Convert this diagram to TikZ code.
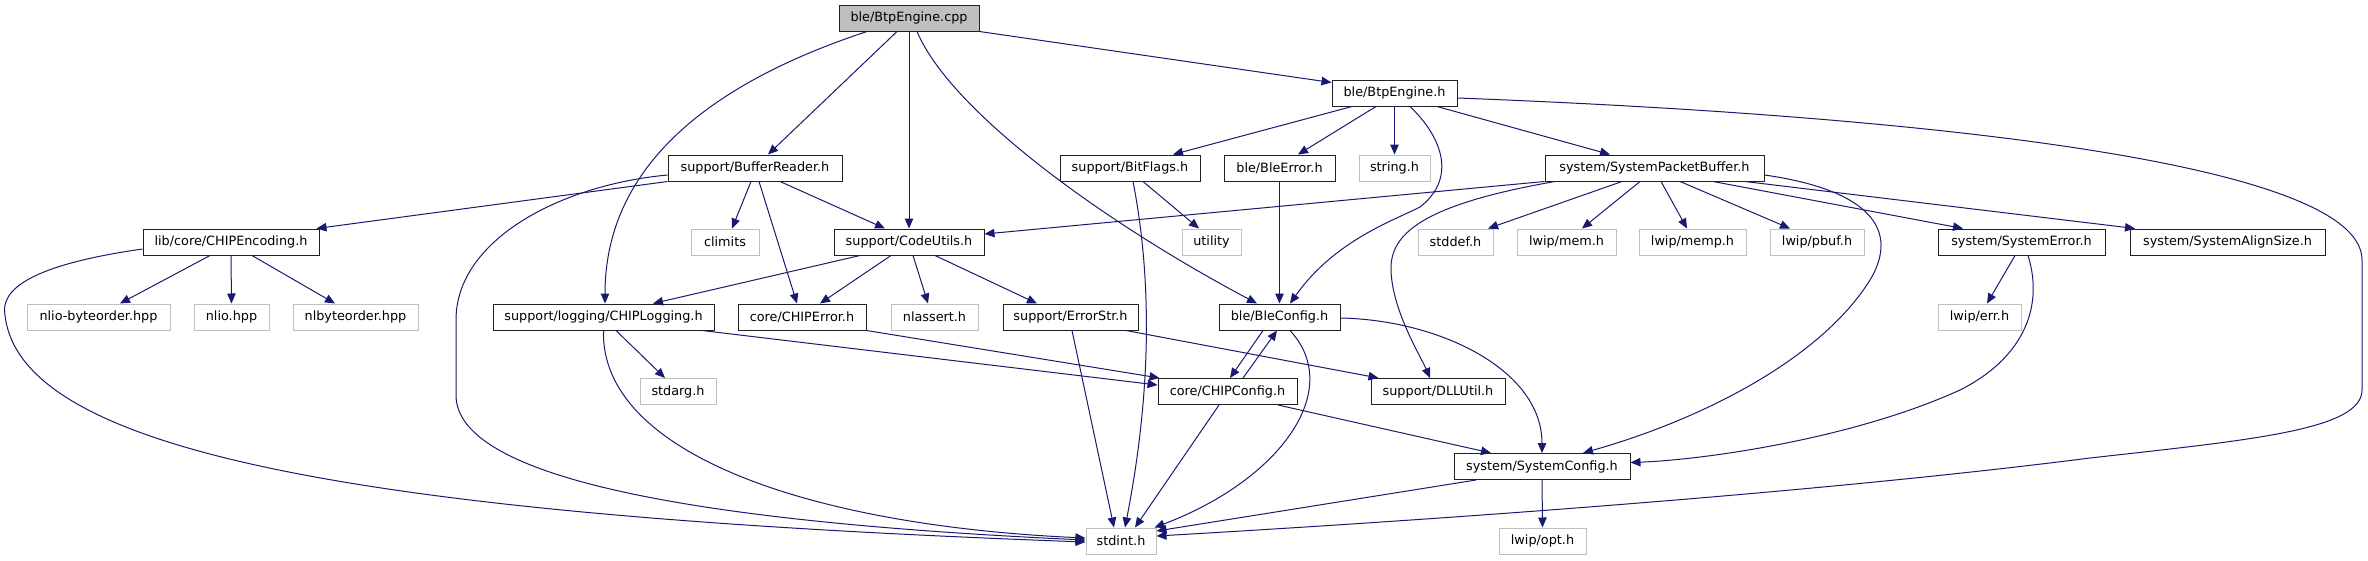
\documentclass[tikz,border=0pt]{standalone}
\usepackage{fontspec}
\newfontfamily\dv{DejaVu Sans}
\usetikzlibrary{calc,arrows.meta}
\definecolor{edgeblue}{HTML}{191970}
\definecolor{extgray}{HTML}{BFBFBF}
\definecolor{rootgray}{HTML}{BFBFBF}
\definecolor{docborder}{HTML}{202020}
\begin{document}
\begin{tikzpicture}[x=1pt,y=-1pt,
  box/.style={minimum height=26pt, inner sep=0pt, fill=white, line width=1pt,
              font={\dv\fontsize{12.8}{14}\selectfont}, text=black},
  doc/.style={box, draw=docborder},
  ext/.style={box, draw=extgray},
  dep/.style={draw=edgeblue, line width=1pt, -{Triangle[length=10pt,width=8.5pt]}}]
\useasboundingbox (0,0) rectangle (2368,560);
% row 0
\node[doc, fill=rootgray, minimum width=140pt] (cpp) at (909,18) {ble/BtpEngine.cpp};
% row 1
\node[doc, minimum width=125pt] (btph) at (1394.5,93) {ble/BtpEngine.h};
% row 2
\node[doc, minimum width=174pt] (bufrd) at (755,168) {support/BufferReader.h};
\node[doc, minimum width=140pt] (bitfl) at (1130,168) {support/BitFlags.h};
\node[doc, minimum width=111pt] (bleerr) at (1279.5,168) {ble/BleError.h};
\node[ext, minimum width=71pt] (strh) at (1394.5,168) {string.h};
\node[doc, minimum width=219pt] (spb) at (1654.5,168) {system/SystemPacketBuffer.h};
% row 3
\node[doc, minimum width=176pt] (chipenc) at (231,242) {lib/core/CHIPEncoding.h};
\node[ext, minimum width=68pt] (climits) at (725,242) {climits};
\node[doc, minimum width=150pt] (codeut) at (909,242) {support/CodeUtils.h};
\node[ext, minimum width=59pt] (utility) at (1211.5,242) {utility};
\node[ext, minimum width=75pt] (stddef) at (1455.5,242) {stddef.h};
\node[ext, minimum width=99pt] (lwipmem) at (1566.5,242) {lwip/mem.h};
\node[ext, minimum width=107pt] (lwipmemp) at (1692.5,242) {lwip/memp.h};
\node[ext, minimum width=94pt] (lwippbuf) at (1817,242) {lwip/pbuf.h};
\node[doc, minimum width=167pt] (syserr) at (2021.5,242) {system/SystemError.h};
\node[doc, minimum width=195pt] (sysalign) at (2227.5,242) {system/SystemAlignSize.h};
% row 4
\node[ext, minimum width=143pt] (nliobo) at (98.5,317) {nlio-byteorder.hpp};
\node[ext, minimum width=75pt] (nliohpp) at (231.5,317) {nlio.hpp};
\node[ext, minimum width=125pt] (nlbo) at (355.5,317) {nlbyteorder.hpp};
\node[doc, minimum width=221pt] (chiplog) at (603.5,317) {support/logging/CHIPLogging.h};
\node[doc, minimum width=128pt] (chiperr) at (802,317) {core/CHIPError.h};
\node[ext, minimum width=87pt] (nlassert) at (934.5,317) {nlassert.h};
\node[doc, minimum width=135pt] (errstr) at (1070.5,317) {support/ErrorStr.h};
\node[doc, minimum width=121pt] (bleconf) at (1279.5,317) {ble/BleConfig.h};
\node[ext, minimum width=83pt] (lwiperr) at (1979.5,317) {lwip/err.h};
% row 5
\node[ext, minimum width=76pt] (stdarg) at (678,391.5) {stdarg.h};
\node[doc, minimum width=139pt] (chipconf) at (1227.5,391.5) {core/CHIPConfig.h};
\node[doc, minimum width=134pt] (dllutil) at (1438,391.5) {support/DLLUtil.h};
% row 6
\node[doc, minimum width=176pt] (sysconf) at (1542,466.5) {system/SystemConfig.h};
% row 7
\node[ext, minimum width=70pt] (stdint) at (1121,541) {stdint.h};
\node[ext, minimum width=87pt] (lwipopt) at (1542.5,541) {lwip/opt.h};

% edges from BtpEngine.cpp
\draw[dep] (cpp.south east) -- ($(btph.north west)+(0,3)$);
\draw[dep] ($(cpp.south)+(-12,0)$) -- ($(bufrd.north)+(13,0)$);
\draw[dep] (cpp.south) -- (codeut.north);
\draw[dep] ($(cpp.south)+(-42,0)$) .. controls (720,80) and (605,160) .. ($(chiplog.north)+(1.5,0)$);
\draw[dep] ($(cpp.south)+(8,0)$) .. controls (950,110) and (1100,220) .. ($(bleconf.north)+(-22.5,0)$);
% BtpEngine.h
\draw[dep] ($(btph.south)+(-42.5,0)$) -- ($(bitfl.north)+(43,0)$);
\draw[dep] ($(btph.south)+(-18.5,0)$) -- ($(bleerr.north)+(18.5,0)$);
\draw[dep] (btph.south) -- (strh.north);
\draw[dep] ($(btph.south)+(42.5,0)$) -- ($(spb.north)+(-44.5,0)$);
\draw[dep] ($(btph.south)+(15.5,0)$) .. controls (1445,140) and (1455,180) .. (1420,207) .. controls (1395,220) and (1335,240) .. ($(bleconf.north)+(10.5,0)$);
\draw[dep] ($(btph.east)+(0,5)$) .. controls (1900,115) and (2362,160) .. (2362,260) -- (2362,390) .. controls (2362,430) and (2250,440) .. (2090,458) .. controls (1800,495) and (1400,522) .. ($(stdint.east)+(0,-5)$);
% BufferReader.h
\draw[dep] (bufrd.south west) -- ($(chipenc.north east)+(-3,0)$);
\draw[dep] ($(bufrd.south)+(-4,0)$) -- ($(climits.north)+(7,0)$);
\draw[dep] ($(bufrd.south)+(25,0)$) -- ($(codeut.north)+(-24,0)$);
\draw[dep] ($(bufrd.south)+(4,0)$) -- ($(chiperr.north)+(-5,0)$);
\draw[dep] ($(bufrd.west)+(0,7)$) .. controls (560,185) and (456,240) .. (456,320) -- (456,395) .. controls (456,470) and (650,520) .. ($(stdint.west)+(0,-1)$);
% BitFlags.h
\draw[dep] ($(bitfl.south)+(13,0)$) -- ($(utility.north)+(-12.5,0)$);
\draw[dep] ($(bitfl.south)+(3,0)$) .. controls (1160,320) and (1140,450) .. ($(stdint.north)+(4,0)$);
% BleError.h
\draw[dep] (bleerr.south) -- (bleconf.north);
% SystemPacketBuffer.h
\draw[dep] (spb.south west) -- ($(codeut.east)+(0,-8)$);
\draw[dep] ($(spb.south)+(-32.5,0)$) -- ($(stddef.north)+(32.5,0)$);
\draw[dep] ($(spb.south)+(-14.5,0)$) -- ($(lwipmem.north)+(15.5,0)$);
\draw[dep] ($(spb.south)+(6.5,0)$) -- ($(lwipmemp.north)+(-5.5,0)$);
\draw[dep] ($(spb.south)+(25.5,0)$) -- ($(lwippbuf.north)+(-27,0)$);
\draw[dep] ($(spb.south)+(58.5,0)$) -- ($(syserr.north)+(-58.5,0)$);
\draw[dep] ($(spb.south)+(90.5,0)$) -- ($(sysalign.north)+(-92.5,0)$);
\draw[dep] ($(spb.south)+(-99.5,0)$) .. controls (1420,205) and (1390,235) .. (1391,270) .. controls (1392,310) and (1420,355) .. ($(dllutil.north)+(-8,0)$);
\draw[dep] ($(spb.east)+(0,7)$) .. controls (1870,190) and (1900,230) .. (1870,280) .. controls (1820,360) and (1700,420) .. ($(sysconf.north)+(41,0)$);
% CHIPEncoding.h
\draw[dep] ($(chipenc.south)+(-21,0)$) -- ($(nliobo.north)+(21.5,0)$);
\draw[dep] (chipenc.south) -- (nliohpp.north);
\draw[dep] ($(chipenc.south)+(21,0)$) -- ($(nlbo.north)+(-20.5,0)$);
\draw[dep] ($(chipenc.west)+(0,7)$) .. controls (30,265) and (0,290) .. (5,315) .. controls (20,450) and (350,515) .. ($(stdint.west)+(0,1)$);
% CodeUtils.h
\draw[dep] ($(codeut.south)+(-49,0)$) -- ($(chiplog.north)+(49.5,0)$);
\draw[dep] ($(codeut.south)+(-18,0)$) -- ($(chiperr.north)+(18,0)$);
\draw[dep] ($(codeut.south)+(4,0)$) -- ($(nlassert.north)+(-6.5,0)$);
\draw[dep] ($(codeut.south)+(26,0)$) -- ($(errstr.north)+(-33.5,0)$);
% SystemError.h
\draw[dep] ($(syserr.south)+(-6.5,0)$) -- ($(lwiperr.north)+(7.5,0)$);
\draw[dep] ($(syserr.south)+(6.5,0)$) .. controls (2045,310) and (2020,360) .. (1960,390) .. controls (1850,440) and (1700,460) .. ($(sysconf.east)+(0,-4)$);
% CHIPLogging.h
\draw[dep] ($(chiplog.south)+(12.5,0)$) -- ($(stdarg.north)+(-13,0)$);
\draw[dep] ($(chiplog.south)+(98.5,0)$) -- ($(chipconf.west)+(0,-6.5)$);
\draw[dep] (chiplog.south) .. controls (600,450) and (800,525) .. ($(stdint.west)+(0,-3)$);
% CHIPError.h
\draw[dep] (chiperr.south east) -- ($(chipconf.north west)+(2,0)$);
% ErrorStr.h
\draw[dep] ($(errstr.south)+(1.5,0)$) -- ($(stdint.north)+(-7,0)$);
\draw[dep] ($(errstr.south)+(55.5,0)$) -- ($(dllutil.north west)+(8,0)$);
% BleConfig.h
\draw[dep] ($(bleconf.south)+(-16.5,0)$) -- ($(chipconf.north)+(2.5,0)$);
\draw[dep] ($(bleconf.east)+(0,1)$) .. controls (1440,320) and (1542,370) .. (sysconf.north);
\draw[dep] ($(bleconf.south)+(10.5,0)$) .. controls (1345,390) and (1280,480) .. ($(stdint.north east)+(-2,0)$);
% CHIPConfig.h
\draw[dep] ($(chipconf.north)+(15.5,0)$) -- ($(bleconf.south)+(-2.5,0)$);
\draw[dep] ($(chipconf.south)+(-8.5,0)$) -- ($(stdint.north)+(14,0)$);
\draw[dep] ($(chipconf.south)+(50.5,0)$) -- ($(sysconf.north)+(-51,0)$);
% SystemConfig.h
\draw[dep] ($(sysconf.south)+(-66,0)$) -- ($(stdint.east)+(0,-10)$);
\draw[dep] (sysconf.south) -- (lwipopt.north);
\end{tikzpicture}
\end{document}
